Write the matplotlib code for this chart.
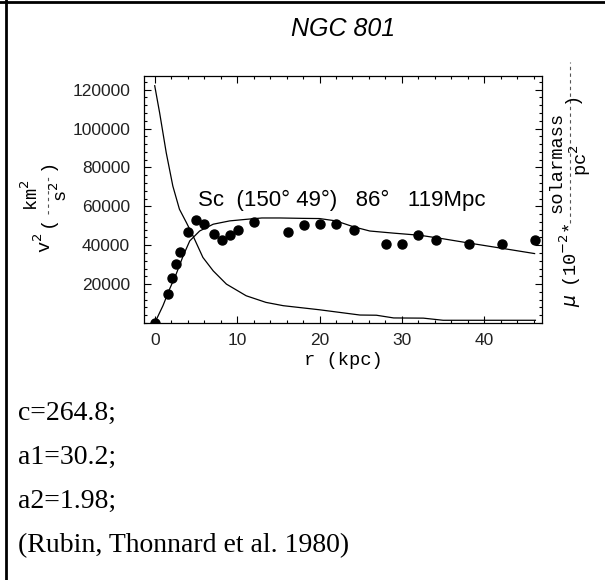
import matplotlib.pyplot as plt
from matplotlib.lines import Line2D
from matplotlib.ticker import MultipleLocator

# observed rotation curve points (r in kpc, v^2 in km^2/s^2)
r_obs = [0, 1.6, 2.1, 2.6, 3.1, 4.0, 5.05, 6.0, 7.2, 8.2, 9.15, 10.1, 12.05,
         16.2, 18.15, 20.1, 22.05, 24.2, 28.1, 30.0, 32.0, 34.1, 38.1, 42.2, 46.1]
v2_obs = [0, 14900, 23000, 30400, 36600, 46800, 53200, 50900, 46000, 42700, 45000,
          48000, 52100, 47000, 50300, 51100, 51100, 48000, 40800, 40800, 45100,
          42900, 40800, 40800, 42900]

# model fit
r_fit = [0, 1.0, 1.8, 2.6, 3.45, 4.25, 5.45, 7.1, 9.1, 11.1, 13, 15.2, 18, 20,
         22, 24.1, 26.1, 29, 32.2, 35, 38.3, 42, 46.1]
v2_fit = [0, 8900, 17400, 25100, 34500, 42200, 47300, 50800, 52500, 53300, 54000,
          54000, 53800, 53700, 52500, 49500, 47300, 46200, 45100, 43300, 41000,
          38500, 35700]

# surface density (drawn on the same scale)
r_mu = [0, 0.6, 1.4, 2.2, 3.0, 3.85, 4.65, 5.85, 7.1, 8.7, 11.1, 13.5, 15.6, 20,
        24.9, 26.9, 29, 32.6, 35, 46.2]
mu = [122000, 108000, 87500, 70400, 58500, 51600, 44800, 33700, 26800, 20000,
      14000, 10600, 8900, 6800, 4100, 4000, 2600, 2500, 1400, 1400]

x_ticks = [0, 10, 20, 30, 40]
y_ticks = [20000, 40000, 60000, 80000, 100000, 120000]
notes = ["c=264.8;", "a1=30.2;", "a2=1.98;", "(Rubin, Thonnard et al. 1980)"]

W, H = 605, 580
fig = plt.figure(figsize=(W / 100, H / 100), dpi=100)


def fx(px):
    return px / W


def fy(py):
    return 1 - py / H


ax = fig.add_axes([fx(144), fy(323), fx(542) - fx(144), fy(76) - fy(323)])
ax.plot(r_mu, mu, color='black', lw=0.9)
ax.plot(r_fit, v2_fit, color='black', lw=0.9)
ax.plot(r_obs, v2_obs, 'o', color='black', ms=6.5)

ax.set_xlim(-1.3, 47.0)
ax.set_ylim(0, 127000)
ax.set_xticks(x_ticks)
ax.set_yticks(y_ticks)
ax.xaxis.set_minor_locator(MultipleLocator(2))
ax.yaxis.set_minor_locator(MultipleLocator(4000))
ax.tick_params(which='both', direction='in', top=True, right=True, width=0.8)
ax.tick_params(which='major', length=5)
ax.tick_params(which='minor', length=2.5)
ax.tick_params(axis='x', pad=7)
ax.tick_params(axis='y', pad=10)
for lab in ax.get_xticklabels() + ax.get_yticklabels():
    lab.set_family('Liberation Sans')
    lab.set_fontsize(12.5)
    lab.set_color('#222222')
for sp in ax.spines.values():
    sp.set_linewidth(0.9)

ax.set_xlabel('r (kpc)', family='Liberation Mono', fontsize=13.5, labelpad=3)

ax.text(5.2, 63000, 'Sc  (150\u00b0 49\u00b0)   86\u00b0   119Mpc',
        family='Liberation Sans', fontsize=16, va='center', ha='left')

fig.text(fx(343), fy(29), 'NGC 801', family='Liberation Sans', style='italic',
         fontsize=18, ha='center', va='center')

mono = dict(family='Liberation Mono', fontsize=13.5, rotation=90,
            ha='center', va='center')

# left axis label: v^2 ( km^2 / s^2 )
fig.text(fx(44), fy(243), 'v$^2$', **mono)
fig.text(fx(47), fy(221), '(', **mono)
fig.text(fx(31), fy(195), 'km$^2$', **mono)
fig.text(fx(60), fy(192), 's$^2$', **mono)
fig.text(fx(47), fy(164), ')', **mono)
fig.add_artist(Line2D([fx(48), fx(48)], [fy(214), fy(174)], color='#555555',
                      lw=0.8, ls=(0, (3, 3))))

# right axis label: mu (10^-2 * solarmass / pc^2)
fig.text(fx(572), fy(300), '$\\mu$', **mono)
fig.text(fx(570), fy(255), '(10$^{-2}$*', **mono)
fig.text(fx(557), fy(162), 'solarmass', **mono)
fig.text(fx(580), fy(160), 'pc$^2$', **mono)
fig.text(fx(571), fy(97), ')', **mono)
fig.add_artist(Line2D([fx(570), fx(570)], [fy(223), fy(62)], color='#555555',
                      lw=0.8, ls=(0, (3, 3))))

for i, s in enumerate(notes):
    fig.text(fx(18), fy(420 + 44 * i), s, family='Liberation Serif',
             fontsize=20, ha='left', va='baseline')

# table borders
fig.add_artist(Line2D([fx(6), fx(6)], [0, 1], color='black', lw=2))
fig.add_artist(Line2D([0, 1], [fy(2), fy(2)], color='black', lw=2))

fig.savefig('out.png', dpi=100)
